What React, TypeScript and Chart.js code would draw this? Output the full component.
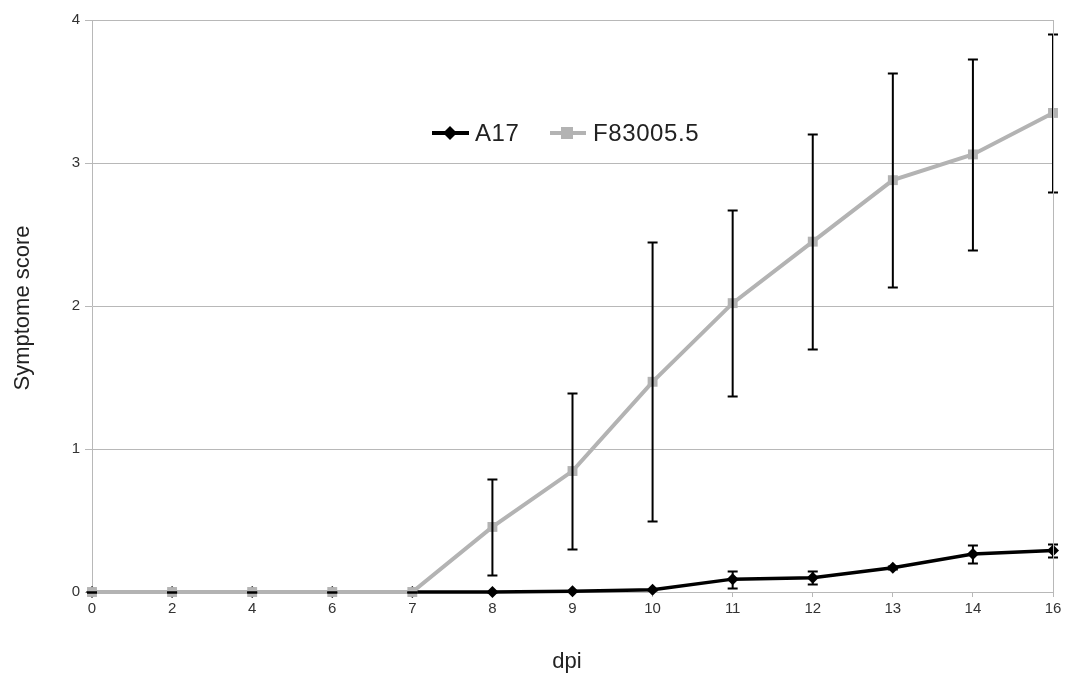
import React, { useEffect, useRef } from "react";
import { Chart, registerables } from "chart.js";

Chart.register(...registerables);

const categories = ["0", "2", "4", "6", "7", "8", "9", "10", "11", "12", "13", "14", "16"];
const a17Values = [0, 0, 0, 0, 0, 0, 0.005, 0.015, 0.09, 0.1, 0.17, 0.265, 0.29];
const a17Errors = [0, 0, 0, 0, 0, 0, 0, 0, 0.06, 0.045, 0.01, 0.065, 0.045];
const fValues = [0, 0, 0, 0, 0, 0.455, 0.846, 1.47, 2.02, 2.45, 2.88, 3.06, 3.35];
const fErrors = [0, 0, 0, 0, 0, 0.333, 0.545, 0.975, 0.65, 0.75, 0.75, 0.67, 0.55];
const yTicks = [0, 1, 2, 3, 4];
const seriesNames = ["A17", "F83005.5"];

const FONT = "'Liberation Sans', Arial, sans-serif";
const GRAY = "#b3b3b3";
const GRID = "#b8b8b8";

const errorBarPlugin = {
  id: "errorBars",
  afterDatasetsDraw(chart: any) {
    const ctx = chart.ctx;
    const y = chart.scales.y;
    const errs = [a17Errors, fErrors];
    ctx.save();
    ctx.strokeStyle = "#000";
    ctx.lineWidth = 2;
    [1, 0].forEach((di) => {
      const meta = chart.getDatasetMeta(di);
      const vals = chart.data.datasets[di].data as number[];
      meta.data.forEach((pt: any, i: number) => {
        const v = vals[i];
        const e = errs[di][i];
        const x = pt.x;
        const yt = Math.round(y.getPixelForValue(v + e)) + 0.5;
        const yb = Math.round(y.getPixelForValue(v - e)) + 0.5;
        ctx.beginPath();
        ctx.moveTo(x, yt);
        ctx.lineTo(x, yb);
        ctx.moveTo(x - 5, yt);
        ctx.lineTo(x + 5, yt);
        ctx.moveTo(x - 5, yb);
        ctx.lineTo(x + 5, yb);
        ctx.stroke();
      });
    });
    ctx.restore();
  },
};

const decorPlugin = {
  id: "decor",
  afterDraw(chart: any) {
    const ctx = chart.ctx;
    const area = chart.chartArea;
    ctx.save();
    // right border
    ctx.strokeStyle = GRID;
    ctx.lineWidth = 1;
    ctx.beginPath();
    ctx.moveTo(Math.round(area.right) + 0.5, area.top);
    ctx.lineTo(Math.round(area.right) + 0.5, area.bottom);
    ctx.stroke();

    // legend
    const ly = 133;
    ctx.font = `24px ${FONT}`;
    (ctx as any).letterSpacing = "0.6px";
    ctx.textBaseline = "middle";
    ctx.textAlign = "left";
    // A17
    ctx.strokeStyle = "#000";
    ctx.lineWidth = 4;
    ctx.beginPath();
    ctx.moveTo(432, ly);
    ctx.lineTo(469, ly);
    ctx.stroke();
    ctx.fillStyle = "#000";
    ctx.beginPath();
    ctx.moveTo(450, ly - 7);
    ctx.lineTo(457, ly);
    ctx.lineTo(450, ly + 7);
    ctx.lineTo(443, ly);
    ctx.closePath();
    ctx.fill();
    ctx.fillStyle = "#222";
    ctx.fillText(seriesNames[0], 475, ly + 1);
    // F83005.5
    ctx.strokeStyle = GRAY;
    ctx.lineWidth = 4;
    ctx.beginPath();
    ctx.moveTo(550, ly);
    ctx.lineTo(586, ly);
    ctx.stroke();
    ctx.fillStyle = GRAY;
    ctx.fillRect(561, ly - 6, 12, 12);
    ctx.fillStyle = "#222";
    ctx.fillText(seriesNames[1], 593, ly + 1);
    (ctx as any).letterSpacing = "0px";

    // axis titles
    ctx.fillStyle = "#222";
    ctx.font = `22px ${FONT}`;
    ctx.textAlign = "center";
    ctx.textBaseline = "alphabetic";
    ctx.fillText("dpi", 567, 668);
    ctx.translate(23, 308);
    ctx.rotate(-Math.PI / 2);
    ctx.textBaseline = "middle";
    ctx.fillText("Symptome score", 0, 0);
    ctx.restore();
  },
};

export default function App() {
  const ref = useRef<HTMLCanvasElement>(null);
  useEffect(() => {
    document.body.style.margin = "0";
    const chart = new Chart(ref.current!, {
      type: "line",
      data: {
        labels: categories,
        datasets: [
          {
            label: seriesNames[0],
            data: a17Values,
            borderColor: "#000",
            backgroundColor: "#000",
            borderWidth: 3.5,
            pointStyle: "rectRot",
            pointRadius: 6,
            pointBorderWidth: 0,
            clip: false,
            order: 2,
          },
          {
            label: seriesNames[1],
            data: fValues,
            borderColor: GRAY,
            backgroundColor: GRAY,
            borderWidth: 4,
            pointStyle: "rect",
            pointRadius: 7,
            pointBorderWidth: 0,
            clip: false,
            order: 1,
          },
        ],
      },
      options: {
        responsive: false,
        animation: false,
        layout: { padding: { left: 0, right: 17, top: 20, bottom: 0 } },
        plugins: { legend: { display: false }, tooltip: { enabled: false } },
        scales: {
          x: {
            offset: false,
            grid: {
              color: () => "rgba(0,0,0,0)",
              tickColor: GRID,
              tickLength: 5,
            },
            border: { display: false },
            ticks: {
              autoSkip: false,
              maxRotation: 0,
              padding: 3,
              color: "#333",
              font: { family: FONT, size: 15 },
            },
            afterFit: (s: any) => {
              s.height = 83;
            },
          },
          y: {
            min: 0,
            max: 4,
            afterBuildTicks: (s: any) => {
              s.ticks = yTicks.map((v) => ({ value: v }));
            },
            grid: { color: GRID, tickColor: GRID, tickLength: 7 },
            border: { display: true, color: GRID },
            ticks: {
              padding: 5,
              color: "#333",
              font: { family: FONT, size: 15 },
            },
            afterFit: (s: any) => {
              s.width = 92;
            },
          },
        },
      },
      plugins: [errorBarPlugin, decorPlugin],
    });
    return () => chart.destroy();
  }, []);
  return <canvas ref={ref} width={1070} height={675} style={{ display: "block" }} />;
}
